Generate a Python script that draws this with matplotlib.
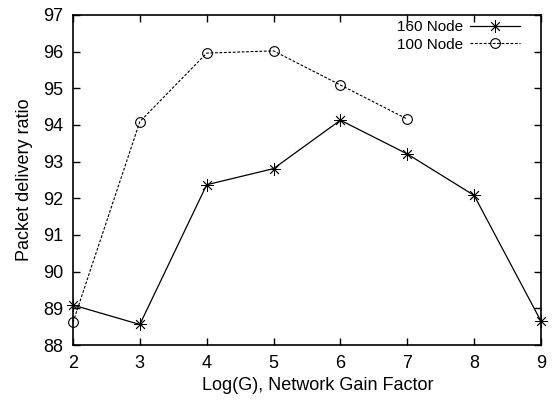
import matplotlib
matplotlib.use("Agg")
import matplotlib.pyplot as plt

plt.rcParams["font.family"] = ["Liberation Sans", "DejaVu Sans"]

# network gain factor (log scale index) and delivery ratios
gain_160 = [2, 3, 4, 5, 6, 7, 8, 9]
pdr_160 = [89.09, 88.56, 92.37, 92.81, 94.13, 93.21, 92.08, 88.65]

gain_100 = [2, 3, 4, 5, 6, 7]
pdr_100 = [88.62, 94.09, 95.96, 96.02, 95.09, 94.16]

fig = plt.figure(figsize=(5.58, 4.04), dpi=100)
ax = fig.add_axes([0.1308, 0.146, 0.8387, 0.817])

ax.plot(gain_160, pdr_160, color="black", linewidth=0.9,
        marker=(8, 2, 0), markersize=9, markeredgewidth=0.6,
        label="160 Node", clip_on=False, zorder=3)
ax.plot(gain_100, pdr_100, color="black", linewidth=0.8, dashes=(2.5, 1.5),
        marker="o", markersize=7, markerfacecolor="none",
        markeredgewidth=0.8, label="100 Node", clip_on=False, zorder=3)

ax.set_xlim(2, 9)
ax.set_ylim(88, 97)
ax.set_xticks(range(2, 10))
ax.set_yticks(range(88, 98))
ax.tick_params(direction="in", length=5, width=1, top=True, right=True,
               labelsize=13, pad=7)
for sp in ax.spines.values():
    sp.set_linewidth(1.2)

ax.set_xlabel("Log(G), Network Gain Factor", fontsize=13)
ax.xaxis.set_label_coords(0.524, -0.097)
ax.set_ylabel("Packet delivery ratio", fontsize=13, labelpad=7)

leg = ax.legend(loc="upper right", frameon=False, markerfirst=False,
                fontsize=11, handlelength=3.3, handletextpad=0.4,
                labelspacing=0.25, borderpad=0, borderaxespad=0,
                bbox_to_anchor=(0.955, 0.985))

fig.savefig("out.png", dpi=100)
